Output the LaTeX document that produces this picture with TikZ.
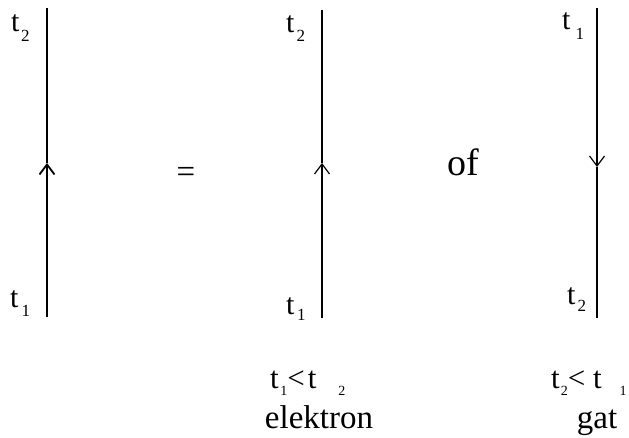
\documentclass[tikz,border=0pt]{standalone}
\usepackage{fontspec}
\setmainfont{Liberation Serif}
\usetikzlibrary{arrows.meta}
\newcommand{\tsb}[3]{t\kern#3pt\raisebox{-#2pt}{\fontsize{17}{17}\selectfont #1}}
\newcommand{\smd}[2]{\raisebox{-#2pt}{\fontsize{14}{14}\selectfont #1}}
\tikzset{
  lbl/.style={anchor=base west, inner sep=0pt, font=\fontsize{30}{30}\selectfont},
  big/.style={inner sep=0pt, font=\fontsize{33}{33}\selectfont},
  cmp/.style={anchor=base west, inner sep=0pt, font=\fontsize{31}{31}\selectfont},
  wl/.style={line width=1.8pt},
  nl/.style={line width=1.2pt},
  barb/.style={-{Straight Barb[length=10pt,width=15pt]}}
}
\begin{document}
\begin{tikzpicture}[x=1pt,y=-1pt]
\useasboundingbox (0,0) rectangle (629,438);
% line 1
\coordinate (a1) at (47,8);
\coordinate (m1) at (47,163);
\coordinate (b1) at (47,317);
\draw[wl,barb] (b1) -- (m1);
\draw[wl] (m1) -- (a1);
\node[lbl] (l1t) at (11,32) {\tsb{2}{10}{1.5}};
\node[lbl] (l1b) at (10,308) {\tsb{1}{9}{3}};
% line 2
\coordinate (a2) at (322,10);
\coordinate (m2) at (322,163);
\coordinate (b2) at (322,318);
\draw[nl,barb] (b2) -- (m2);
\draw[nl] (m2) -- (a2);
\node[lbl] (l2t) at (286,33) {\tsb{2}{9}{2}};
\node[lbl] (l2b) at (286,314) {\tsb{1}{6}{2.5}};
% line 3
\coordinate (a3) at (597,8);
\coordinate (m3) at (597,167);
\coordinate (b3) at (597,318);
\draw[nl,barb] (a3) -- (m3);
\draw[nl] (m3) -- (b3);
\node[lbl] (l3t) at (562,30) {\tsb{1}{10}{5}};
\node[lbl] (l3b) at (567,305) {\tsb{2}{7}{2}};
% symbols
\node[big, anchor=base] (eq) at (186,183) {=};
\node[anchor=base west, inner sep=0pt, font=\fontsize{38}{38}\selectfont] (of) at (447,176) {of};
% bottom
\node[cmp] (c1) at (270,388)
  {t\kern1.5pt\smd{1}{7}<\kern3pt t\hspace{22pt}\smd{2}{7}};
\node[big, anchor=base] (e1) at (319,428) {elektron};
\node[cmp] (c2) at (551,388)
  {t\kern1pt\smd{2}{7}< t\hspace{18pt}\smd{1}{7}};
\node[big, anchor=base] (g1) at (597,428) {gat};
\end{tikzpicture}
\end{document}
